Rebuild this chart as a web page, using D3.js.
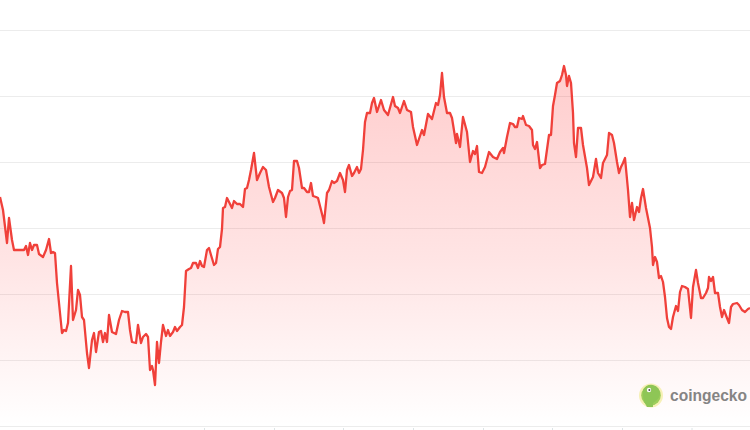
<!DOCTYPE html>
<html>
<head>
<meta charset="utf-8">
<script src="https://cdn.jsdelivr.net/npm/d3@7"></script>
<style>
  html, body { margin: 0; padding: 0; background: #fff; }
  svg { display: block; }
</style>
</head>
<body>
<svg id="chart" width="750" height="430"></svg>
<script>
// Day index along the period
const days = [0,1.5,3.5,4.5,6,7,12,13,14,15,16,17,18.5,19.5,21.5,23,24.5,25.5,26.5,27.5,28.5,29.5,31,32,33,34,35.5,36.5,38,39,40,41,42,43.5,44.5,46,47,48,49.5,50.5,51.5,52.5,53.5,54.5,56,58,59.5,61,62.5,64,65,66,68,69,70.5,71.5,73,74,75,76,76.5,77.5,78.5,79.5,80.5,81.5,83,84,85,86.5,87.5,88.5,90,91,92,93,94.5,95.5,96.5,98,99,100,101,102,103.5,104.5,105.5,107,108,109,110,111,111.5,112.5,113.5,114.5,116,117,118.5,120,121.5,122.5,123.5,124.5,125.5,127,128.5,130,131.5,133,134.5,136.5,137.5,139,141,142,143,144,145,146,147,148.5,149.5,151,152,153.5,154.5,155.5,156.5,158,159,160.5,161.5,162,163.5,164.5,166,167,168.5,170,171.5,172.5,173.5,174.5,176,177,178.5,179.5,180.5,181.5,182.5,183.5,185,186,187,188.5,190.5,192,194,196.5,197.5,199,200,202,203.5,205.5,206.5,208.5,211,212,214,216,218,219,220,221,222,223.5,225,226,228,228.5,230,231.5,233.5,235,236.5,237.5,238.5,239.5,241,242.5,244.5,246.5,248.5,250,251.5,252,253.5,255,256.5,257.5,258.5,259.5,261,261.5,263,264.5,266,266.5,267.5,268.5,270,271,272.5,274.5,275.5,276.5,277.5,278.5,280,281,282,283,283.5,284.5,285.5,286.5,287,288,289,290.5,291.5,293.5,294.5,296.5,298,299,300.5,301.5,303.5,304.5,306,307,308.5,309.5,310.5,311.5,312.5,314,315,316,317,318.5,319.5,320.5,321.5,323,324,325,326,326.5,327.5,328.5,329.5,330.5,331.5,332.5,333.5,334.5,335.5,336.5,338,339,340,341,342.5,344,345.5,346.5,348,349,350.5,351.5,353,354,354.5,355.5,356.5,357.5,359,360,361,362,363.5,364.5,365.5,366.5,368.5,369.5,371,372.5,374,375];
// Price (arbitrary units)
const prices = [229,216,183,208,186,176,176,180,171,183,176,181,181,172,169,176,187,173,174,173,143,123,93,96,95,103,160,106,116,136,131,109,106,73,58,86,93,74,94,95,84,93,84,111,94,92,106,115,114,114,96,84,83,101,83,89,92,89,56,60,56,41,84,63,84,101,90,96,90,94,99,95,99,101,119,155,157,158,163,163,158,165,160,159,176,178,171,161,163,177,179,197,218,219,228,224,218,225,222,222,219,237,238,246,256,273,246,253,259,256,239,224,228,236,233,228,209,229,235,236,265,265,258,238,238,234,234,243,230,229,228,216,208,203,233,236,245,243,245,253,246,234,256,261,250,253,259,253,257,276,304,313,313,323,328,314,326,316,311,329,320,318,313,325,316,314,299,281,296,291,312,307,323,321,331,353,329,313,313,308,283,292,279,309,294,264,275,272,280,254,253,259,274,269,267,274,278,273,289,303,302,299,299,308,307,310,301,300,296,281,277,284,258,261,262,291,291,320,331,343,345,351,360,351,340,350,343,313,283,269,298,298,281,258,241,249,267,253,248,263,271,293,291,283,264,253,259,263,268,236,209,223,206,219,214,228,237,218,208,198,179,161,169,164,148,150,144,129,108,99,97,109,120,115,134,140,139,137,108,139,156,143,128,128,133,138,149,145,149,133,133,119,109,116,108,103,119,122,123,121,116,114,117,118];
// Gridline values and x tick positions (days)
const gridValues = [0,66,132,198,264,330,396];
const xTickDays = [102,137,171.5,206.5,241.5,276,311,345.75];

const W = 750, H = 430;
const svg = d3.select("#chart");
const x = d3.scaleLinear().domain([0,375]).range([0,W]);
const y = d3.scaleLinear().domain([0,396]).range([426,30]);

const data = days.map((d,i)=>({d, v: prices[i]}));

// gradient
const defs = svg.append("defs");
const grad = defs.append("linearGradient")
  .attr("id","fillGrad").attr("gradientUnits","userSpaceOnUse")
  .attr("x1",0).attr("x2",0).attr("y1",y(370)).attr("y2",y(0));
grad.append("stop").attr("offset","0%").attr("stop-color","#ff2020").attr("stop-opacity",0.23);
grad.append("stop").attr("offset","55%").attr("stop-color","#ff2020").attr("stop-opacity",0.12);
grad.append("stop").attr("offset","100%").attr("stop-color","#ff2020").attr("stop-opacity",0.0);

// gridlines
svg.append("g").selectAll("line").data(gridValues).join("line")
  .attr("x1",0).attr("x2",W)
  .attr("y1",d=>Math.round(y(d))+0.5).attr("y2",d=>Math.round(y(d))+0.5)
  .attr("stroke","#ececec").attr("stroke-width",1);

// area
svg.append("path").datum(data)
  .attr("fill","url(#fillGrad)")
  .attr("d", d3.area().x(p=>x(p.d)).y0(y(0)).y1(p=>y(p.v)));

// x axis ticks
const xAxis = d3.axisBottom(x).tickValues(xTickDays).tickFormat("").tickSize(2).tickSizeOuter(0);
const gx = svg.append("g").attr("transform",`translate(0,${y(0)+2})`).call(xAxis);
gx.select(".domain").remove();
gx.selectAll(".tick line").attr("stroke","#dde4e6");

// line
svg.append("path").datum(data)
  .attr("fill","none").attr("stroke","#f0403a").attr("stroke-width",2.3)
  .attr("stroke-linejoin","round")
  .attr("d", d3.line().x(p=>x(p.d)).y(p=>y(p.v)));

// watermark
const wm = svg.append("g").attr("opacity",0.85);
wm.append("circle").attr("cx",651).attr("cy",395.5).attr("r",12).attr("fill","#f5efaa");
wm.append("circle").attr("cx",651).attr("cy",395.5).attr("r",9.8).attr("fill","#8cc63f");
wm.append("path").attr("d","M643,390 Q646,384 653,385 Q660,387 660,394 Q659,400 653,403 L653,407 L647,407 Q642,400 643,390 Z").attr("fill","#7bbd3a");
wm.append("circle").attr("cx",649).attr("cy",390).attr("r",2.2).attr("fill","#fff");
wm.append("circle").attr("cx",649.4).attr("cy",390).attr("r",1).attr("fill","#333");
wm.append("text").attr("x",670).attr("y",401)
  .attr("font-family","'Liberation Sans', Arial, sans-serif").attr("font-weight","bold")
  .attr("font-size",16).attr("fill","#707070")
  .attr("textLength",77).attr("lengthAdjust","spacingAndGlyphs")
  .text("coingecko");
</script>
</body>
</html>
